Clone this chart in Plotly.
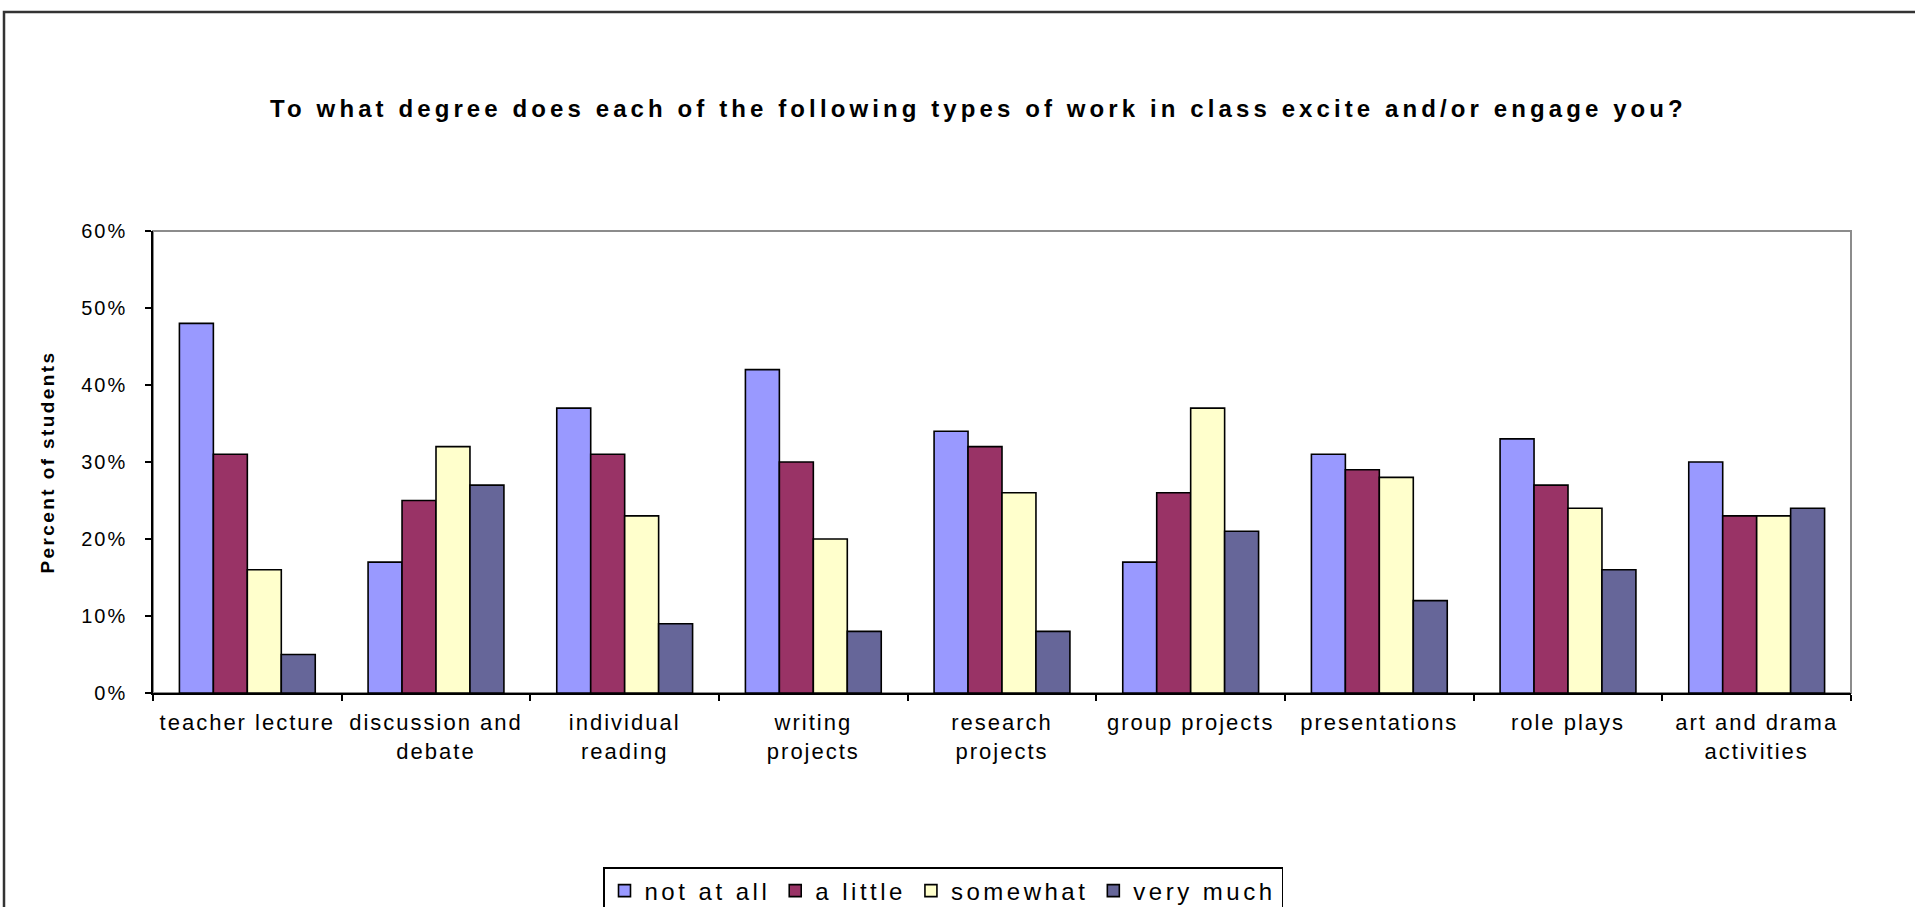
import plotly.graph_objects as go

# ---------------- data ----------------
categories = [
    "teacher lecture", "discussion and debate", "individual reading",
    "writing projects", "research projects", "group projects",
    "presentations", "role plays", "art and drama activities",
]
tick_labels = [
    "teacher lecture", "discussion and<br>debate", "individual<br>reading",
    "writing<br>projects", "research<br>projects", "group projects",
    "presentations", "role plays", "art and drama<br>activities",
]
series_names = ["not at all", "a little", "somewhat", "very much"]
not_at_all = [48, 17, 37, 42, 34, 17, 31, 33, 30]
a_little = [31, 25, 31, 30, 32, 26, 29, 27, 23]
somewhat = [16, 32, 23, 20, 26, 37, 28, 24, 23]
very_much = [5, 27, 9, 8, 8, 21, 12, 16, 24]
y_ticks = [0, 10, 20, 30, 40, 50, 60]
y_tick_labels = ["0%", "10%", "20%", "30%", "40%", "50%", "60%"]
title_text = "To what degree does each of the following types of work in class excite and/or engage you?"
y_title = "Percent of students"
colors = ["#9999FF", "#993366", "#FFFFCC", "#666699"]

FONT = "Liberation Sans, Arial, sans-serif"


def spaced(text, ls, bold=False):
    parts = []
    for line in text.split("<br>"):
        inner = f"<b>{line}</b>" if bold else line
        parts.append(f"<span style='letter-spacing:{ls}px'>{inner}</span>")
    return "<br>".join(parts)


fig = go.Figure()
for name, vals, col in zip(series_names, [not_at_all, a_little, somewhat, very_much], colors):
    fig.add_trace(go.Bar(
        x=categories, y=vals, name=spaced(name, 3.5),
        marker=dict(color=col, line=dict(color="#000000", width=1.6)),
    ))

# plot-area border (grey) and outer frame
fig.add_shape(type="rect", xref="paper", yref="paper", x0=0, x1=1, y0=0, y1=1,
              line=dict(color="#8c8c8c", width=2), layer="below")
fig.add_shape(type="rect", xref="paper", yref="paper",
              x0=(4 - 153) / 1698, x1=1.2, y0=-0.7, y1=(693 - 12) / 462,
              line=dict(color="#333333", width=2.5), layer="below")

fig.update_layout(
    width=1915, height=907,
    margin=dict(l=153, r=64, t=231, b=214, autoexpand=False),
    paper_bgcolor="white", plot_bgcolor="white",
    font=dict(family=FONT, color="#000000"),
    barmode="group", bargap=0.28, bargroupgap=0,
    title=dict(text=spaced(title_text, 4.1, bold=True), font=dict(size=24, family=FONT, color="#000"),
               x=978.5 / 1915, xref="container", xanchor="center",
               y=1 - 109 / 907, yref="container", yanchor="middle"),
    showlegend=True,
    legend=dict(orientation="h", x=(943 - 153) / 1698, xref="paper", xanchor="center",
                y=(693 - 867) / 462, yanchor="top",
                font=dict(size=24, family=FONT, color="#000"),
                bordercolor="#000000", borderwidth=1.5, bgcolor="white",
                itemwidth=30, traceorder="normal"),
    xaxis=dict(
        type="category", tickvals=categories,
        ticktext=[spaced(t, 2) for t in tick_labels],
        showline=True, linecolor="#000000", linewidth=1.5,
        ticks="outside", tickson="boundaries", ticklen=6, tickcolor="#000", tickwidth=1.5,
        tickfont=dict(size=22, family=FONT, color="#000"),
        ticklabelstandoff=9, showgrid=False,
    ),
    yaxis=dict(
        range=[0, 60], tickvals=y_ticks, ticktext=[spaced(t, 2) for t in y_tick_labels],
        showline=True, linecolor="#000000", linewidth=1.5,
        ticks="outside", ticklen=6, tickcolor="#000", tickwidth=1.5,
        tickfont=dict(size=20, family=FONT, color="#000"),
        ticklabelstandoff=14, showgrid=False, zeroline=False,
        title=dict(text=spaced(y_title, 2.4, bold=True), font=dict(size=19, family=FONT, color="#000"),
                   standoff=22),
    ),
)

fig.write_html("out.html", config={"displayModeBar": False},
               post_script="document.body.style.margin='0';document.body.style.overflow='hidden';")
